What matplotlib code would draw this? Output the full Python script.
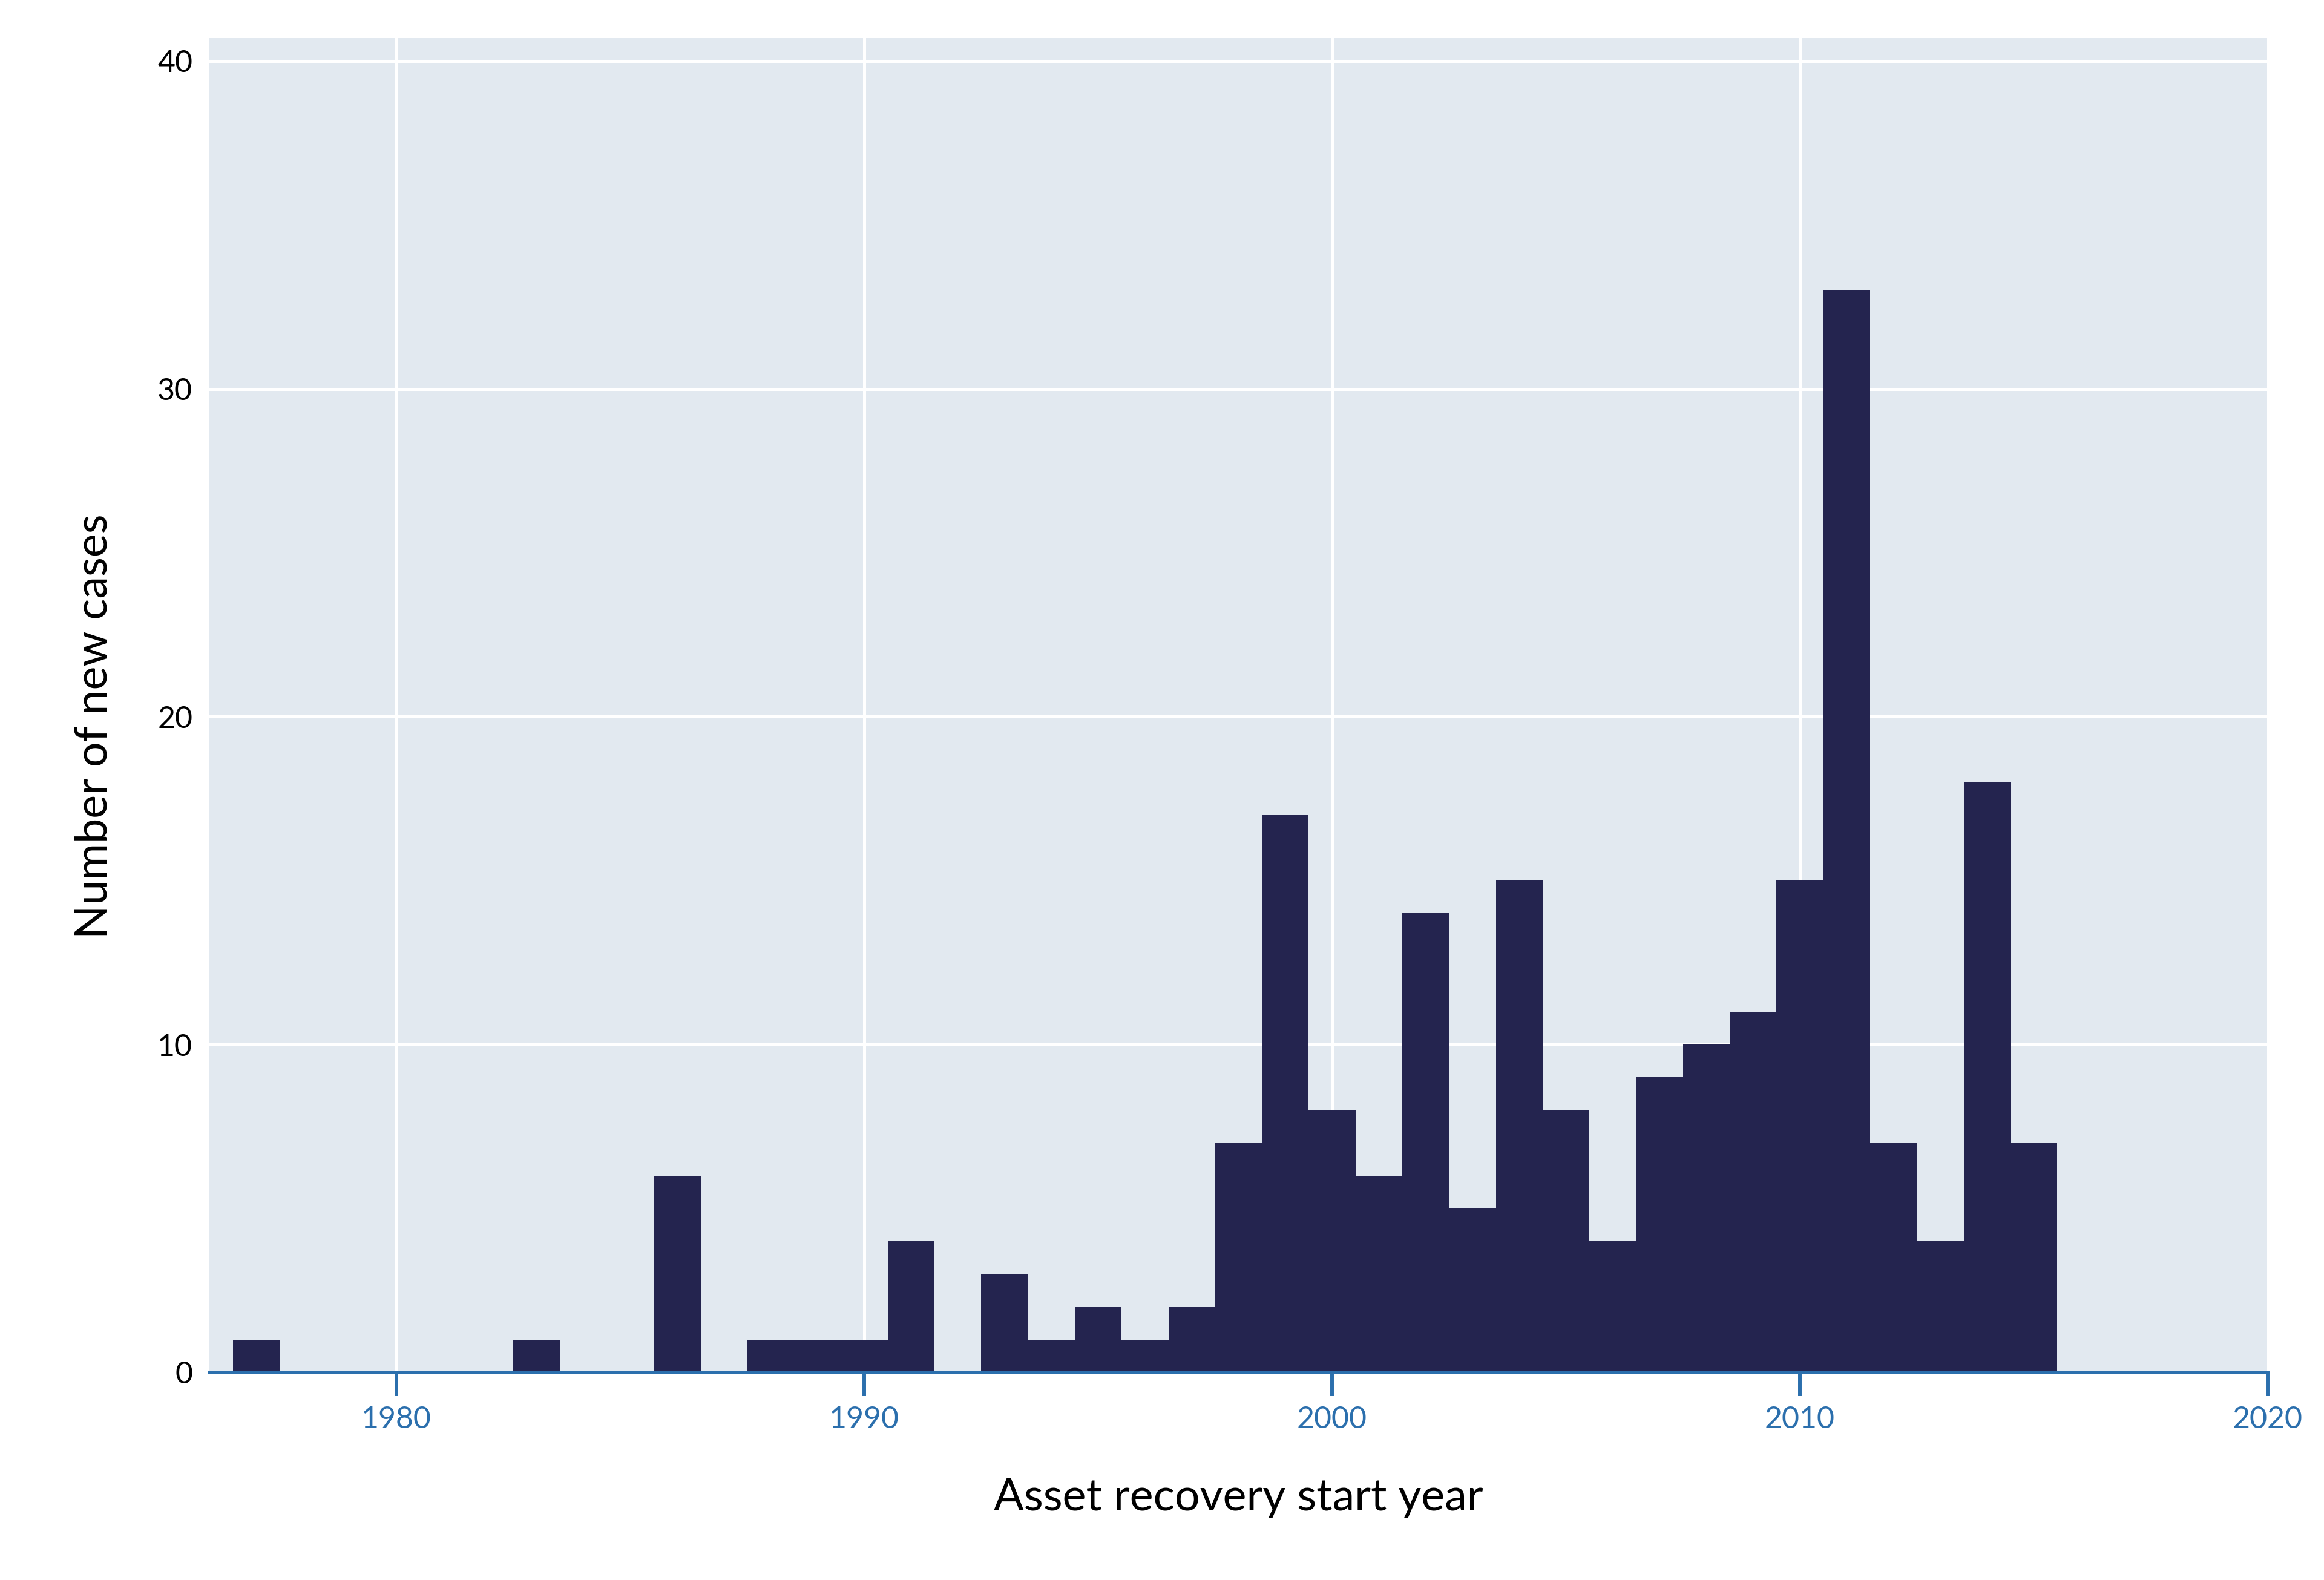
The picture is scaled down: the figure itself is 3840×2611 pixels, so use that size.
"""Histogram of new asset recovery cases per start year."""

import matplotlib

matplotlib.use("Agg")
import matplotlib.pyplot as plt

years = [1977, 1983, 1986, 1988, 1989, 1990, 1991, 1993, 1994, 1995, 1996, 1997,
         1998, 1999, 2000, 2001, 2002, 2003, 2004, 2005, 2006, 2007, 2008, 2009,
         2010, 2011, 2012, 2013, 2014, 2015]
counts = [1, 1, 6, 1, 1, 1, 4, 3, 1, 2, 1, 2,
          7, 17, 8, 6, 14, 5, 15, 8, 4, 9, 10, 11,
          15, 33, 7, 4, 18, 7]
x_ticks = [1980, 1990, 2000, 2010, 2020]
y_ticks = [0, 10, 20, 30, 40]

BAR = "#24244f"
BG = "#e2e9f0"
AXIS = "#2b6fad"

plt.rcParams["font.family"] = ["Lato", "DejaVu Sans"]

fig = plt.figure(figsize=(38.4, 26.11), dpi=100)
ax = fig.add_axes([0.0901, 0.1314, 0.9758 - 0.0901, 0.9763 - 0.1314])
ax.set_facecolor(BG)

ax.bar(years, counts, width=1.0, color=BAR, linewidth=0, zorder=3)

ax.set_xlim(1976, 2020)
ax.set_ylim(0, 40.72)
ax.set_xticks(x_ticks)
ax.set_yticks(y_ticks)
ax.grid(True, color="white", linewidth=3.6, zorder=1)
ax.set_axisbelow(True)

for s in ("top", "right", "left"):
    ax.spines[s].set_visible(False)
ax.spines["bottom"].set_color(AXIS)
ax.spines["bottom"].set_linewidth(4.3)
ax.spines["bottom"].set_zorder(4)

ax.tick_params(axis="x", colors=AXIS, labelsize=36, length=28, width=4.3,
               direction="out", pad=12)
ax.tick_params(axis="y", labelcolor="black", labelsize=36, length=0, pad=20)

ax.set_xlabel("Asset recovery start year", fontsize=53, labelpad=52)
ax.set_ylabel("Number of new cases", fontsize=53)
ax.yaxis.set_label_coords(-0.046, 0.484)

fig.savefig("out.png", dpi=100)
